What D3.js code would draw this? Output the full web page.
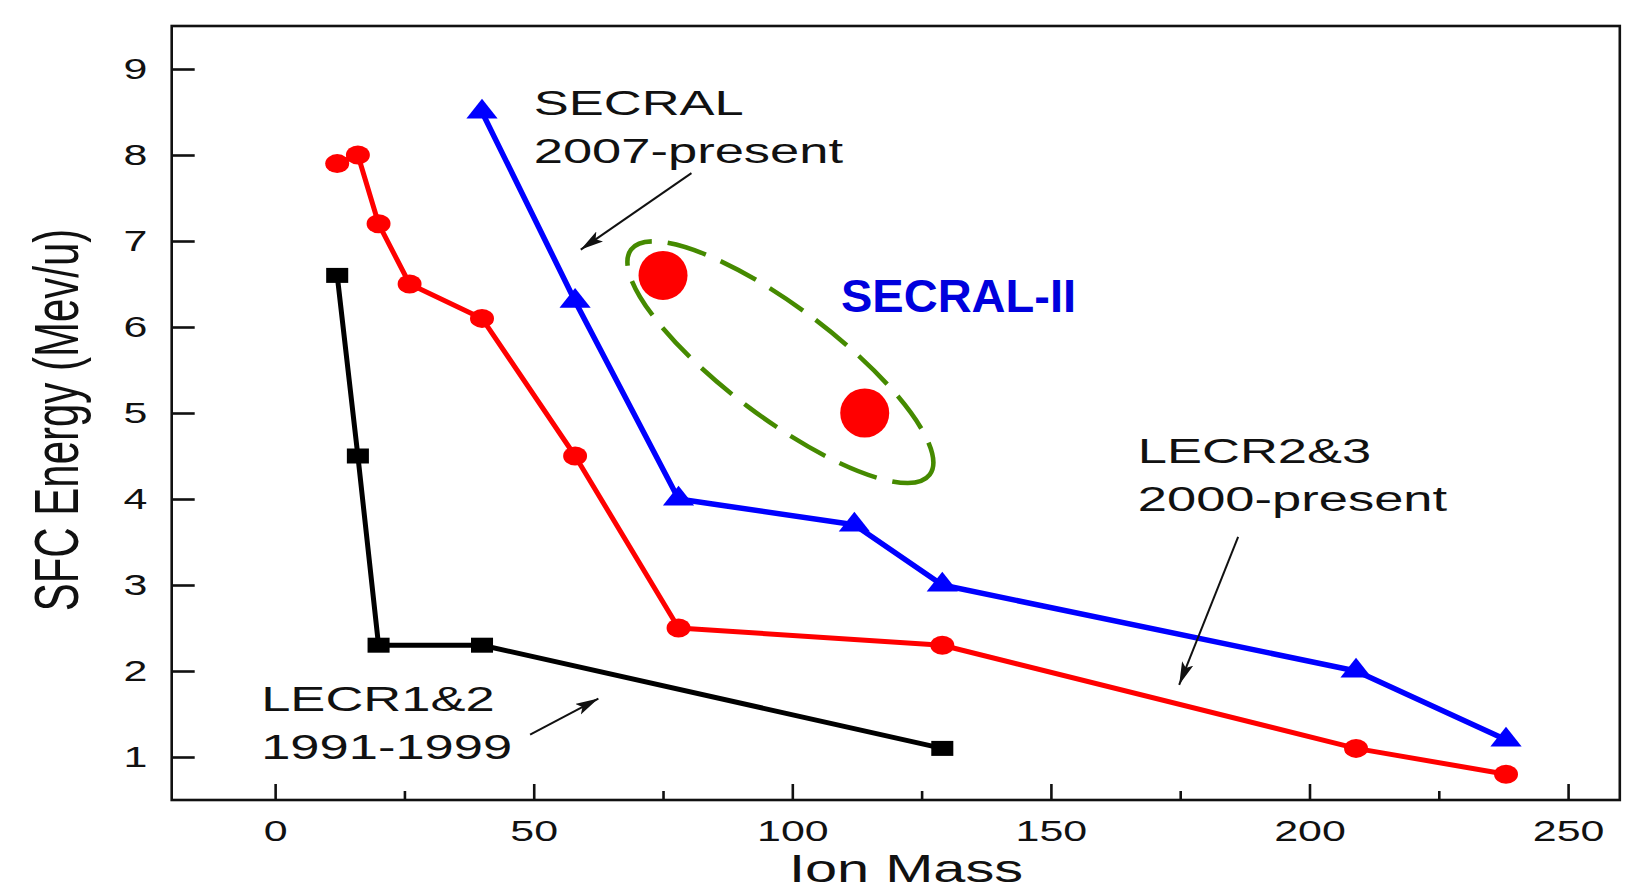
<!DOCTYPE html>
<html>
<head>
<meta charset="utf-8">
<script src="https://cdn.jsdelivr.net/npm/d3@7"></script>
<style>
  html, body { margin: 0; padding: 0; background: #ffffff; }
  svg { display: block; font-family: "Liberation Sans", Arial, sans-serif; }
</style>
</head>
<body>
<svg id="chart" width="1652" height="889"></svg>
<script>
// Ion mass (u) versus SFC energy (MeV/u) for each generation of ECR ion source
const lecr12Mass   = [12, 16, 20, 40, 129];
const lecr12Energy = [6.6, 4.5, 2.3, 2.3, 1.1];

const lecr23Mass   = [12, 16, 20, 26, 40, 58, 78, 129, 209, 238];
const lecr23Energy = [7.9, 8.0, 7.2, 6.5, 6.1, 4.5, 2.5, 2.3, 1.1, 0.8];

const secralMass   = [40, 58, 78, 112, 129, 209, 238];
const secralEnergy = [8.5, 6.3, 4.0, 3.7, 3.0, 2.0, 1.2];

const secral2Mass   = [75, 114];
const secral2Energy = [6.6, 5.0];

const xTicks      = [0, 50, 100, 150, 200, 250];
const xMinorTicks = [25, 75, 125, 175, 225];
const yTicks      = [1, 2, 3, 4, 5, 6, 7, 8, 9];

const xTitle = "Ion Mass";
const yTitle = "SFC Energy (Mev/u)";

// Annotation labels, their anchor (data units) and pointer arrows
const labelLines = [["SECRAL", "2007-present"], ["LECR2&3", "2000-present"], ["LECR1&2", "1991-1999"]];
const labelAt    = [[50, 8.47], [166.8, 4.42], [-2.7, 1.54]];
const arrowFrom  = [[80.5, 7.79], [186.2, 3.56], [49.3, 1.26]];
const arrowTo    = [[59.1, 6.90], [174.8, 1.84], [62.5, 1.68]];
const highlightLabel = "SECRAL-II";

const svg = d3.select("#chart");
const ink = "#111111";
const stretch = 1.48;   // wide type used throughout the figure

const x = d3.scaleLinear().domain([-20, 260]).range([171.7, 1619.8]);
const y = d3.scaleLinear().domain([0.5, 9.5]).range([800, 26]);

svg.append("rect").attr("width", 1652).attr("height", 889).attr("fill", "#ffffff");

// arrowhead
svg.append("defs").append("marker")
  .attr("id", "head")
  .attr("markerUnits", "userSpaceOnUse")
  .attr("markerWidth", 26).attr("markerHeight", 14)
  .attr("refX", 23).attr("refY", 6)
  .attr("orient", "auto")
  .append("path")
  .attr("d", "M0,0 L23,6 L0,12 L5,6 Z")
  .attr("fill", ink);

// axes (ticks pointing inward)
svg.append("g")
  .attr("transform", `translate(0,${y(0.5)})`)
  .call(d3.axisBottom(x).tickValues(xTicks).tickSize(-16).tickPadding(20).tickFormat(d3.format("d")));
svg.append("g")
  .attr("transform", `translate(0,${y(0.5)})`)
  .call(d3.axisBottom(x).tickValues(xMinorTicks).tickSize(-9).tickFormat(""));
svg.append("g")
  .attr("transform", `translate(${x(-20)},0)`)
  .call(d3.axisLeft(y).tickValues(yTicks).tickSize(-23).tickPadding(16.5).tickFormat(d3.format("d")));

svg.selectAll(".domain").remove();
svg.selectAll(".tick line").attr("stroke", ink).attr("stroke-width", 2.6);
svg.selectAll(".tick text")
  .attr("fill", ink)
  .attr("font-size", 29)
  .attr("font-family", "Liberation Sans, Arial, sans-serif")
  .attr("transform", `scale(${stretch},1)`);

// frame
svg.append("rect")
  .attr("x", x(-20)).attr("y", y(9.5))
  .attr("width", x(260) - x(-20)).attr("height", y(0.5) - y(9.5))
  .attr("fill", "none").attr("stroke", ink).attr("stroke-width", 2.6);

// axis titles
svg.append("text")
  .attr("transform", `translate(906,882) scale(1.5,1)`)
  .attr("text-anchor", "middle")
  .attr("font-size", 38.5).attr("fill", ink)
  .text(xTitle);
svg.append("text")
  .attr("transform", `translate(78.3,420) scale(1.5,1) rotate(-90)`)
  .attr("text-anchor", "middle")
  .attr("font-size", 42).attr("fill", ink)
  .text(yTitle);

// series
const series = [
  { mass: lecr12Mass, energy: lecr12Energy, color: "#000000", width: 5,
    shape: d3.symbolSquare, size: 225, sx: 1.47 },
  { mass: lecr23Mass, energy: lecr23Energy, color: "#ff0000", width: 5,
    shape: d3.symbolCircle, size: Math.PI * 9.5 * 9.5, sx: 1.26 },
  { mass: secralMass, energy: secralEnergy, color: "#0000ff", width: 5.5,
    shape: d3.symbolTriangle, size: 225, sx: 1.37 }
];

const line = d3.line().x(d => x(d[0])).y(d => y(d[1]));

series.forEach(s => {
  const pts = s.mass.map((m, i) => [m, s.energy[i]]);
  const g = svg.append("g");
  g.append("path")
    .attr("d", line(pts))
    .attr("fill", "none")
    .attr("stroke", s.color)
    .attr("stroke-width", s.width)
    .attr("stroke-linejoin", "round");
  g.selectAll("path.pt").data(pts).join("path")
    .attr("class", "pt")
    .attr("d", d3.symbol().type(s.shape).size(s.size))
    .attr("transform", d => `translate(${x(d[0])},${y(d[1])}) scale(${s.sx},1)`)
    .attr("fill", s.color);
});

// annotation labels and arrows
labelLines.forEach((lines, i) => {
  const t = svg.append("text")
    .attr("transform", `translate(${x(labelAt[i][0])},${y(labelAt[i][1])}) scale(1.5,1)`)
    .attr("font-size", 35).attr("fill", ink);
  lines.forEach((str, j) => {
    t.append("tspan").attr("x", 0).attr("y", j * 48).text(str);
  });
  svg.append("line")
    .attr("x1", x(arrowFrom[i][0])).attr("y1", y(arrowFrom[i][1]))
    .attr("x2", x(arrowTo[i][0])).attr("y2", y(arrowTo[i][1]))
    .attr("stroke", ink).attr("stroke-width", 2)
    .attr("marker-end", "url(#head)");
});

// SECRAL-II results with dashed outline
const px = secral2Mass.map(m => x(m));
const py = secral2Energy.map(e => y(e));
const cx = (px[0] + px[1]) / 2 + 16.5;
const cy = (py[0] + py[1]) / 2 + 18;
svg.append("ellipse")
  .attr("cx", cx).attr("cy", cy)
  .attr("rx", 187).attr("ry", 55)
  .attr("transform", `rotate(37,${cx},${cy})`)
  .attr("fill", "none")
  .attr("stroke", "#458a00")
  .attr("stroke-width", 4.6)
  .attr("stroke-dasharray", "40 16");

svg.selectAll("circle.s2").data(secral2Mass.map((m, i) => [m, secral2Energy[i]])).join("circle")
  .attr("class", "s2")
  .attr("cx", d => x(d[0])).attr("cy", d => y(d[1]))
  .attr("r", 24.5)
  .attr("fill", "#ff0000");

svg.append("text")
  .attr("x", 841).attr("y", 312.3)
  .attr("font-size", 47).attr("font-weight", "bold")
  .attr("fill", "#0000dd")
  .text(highlightLabel);
</script>
</body>
</html>
